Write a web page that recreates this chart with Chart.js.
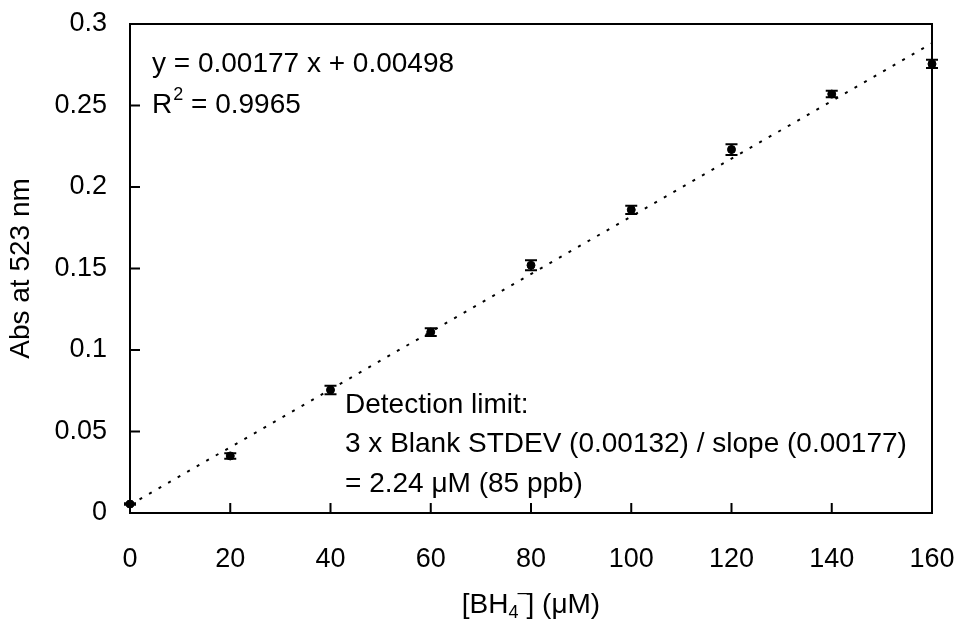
<!DOCTYPE html>
<html>
<head>
<meta charset="utf-8">
<script src="https://cdn.jsdelivr.net/npm/chart.js@4.4.0/dist/chart.umd.min.js"></script>
<style>
  html, body { margin: 0; padding: 0; background: #fff; }
  #wrap { width: 958px; height: 625px; }
</style>
</head>
<body>
<div id="wrap"><canvas id="chart" width="958" height="625"></canvas></div>
<script>
// 検量線のデータ
const concentrations = [0, 20, 40, 60, 80, 100, 120, 140, 160];
const absorbance = [0.0055, 0.035, 0.0755, 0.111, 0.152, 0.186, 0.223, 0.257, 0.2755];
const absError = [0.0005, 0.0017, 0.0026, 0.0024, 0.003, 0.0025, 0.0033, 0.002, 0.0025];
const fitSlope = 0.00177;
const fitIntercept = 0.00498;
const xTicks = [0, 20, 40, 60, 80, 100, 120, 140, 160];
const yTicks = [0, 0.05, 0.1, 0.15, 0.2, 0.25, 0.3];
const yTickLabels = ["0", "0.05", "0.1", "0.15", "0.2", "0.25", "0.3"];
const fitLine1 = "y = 0.00177 x + 0.00498";
const fitLine2 = ["R", "2", " = 0.9965"];
const noteLines = ["Detection limit:", "3 x Blank STDEV (0.00132) / slope (0.00177)", "= 2.24 \u03bcM (85 ppb)"];
const yTitle = "Abs at 523 nm";

const FONT = '"Liberation Sans", Arial, sans-serif';
const FS = 27;   // 目盛りの文字
const FT = 28;   // 注釈・軸タイトル

// 枠線・目盛り・誤差棒・注釈を描くプラグイン
const decorPlugin = {
  id: "decor",
  afterDatasetsDraw(chart) {
    const ctx = chart.ctx;
    const a = chart.chartArea;
    const xs = chart.scales.x;
    const ys = chart.scales.y;
    ctx.save();
    ctx.strokeStyle = "#000";
    ctx.fillStyle = "#000";
    ctx.lineWidth = 2;

    // error bars
    concentrations.forEach((c, i) => {
      const px = xs.getPixelForValue(c);
      const top = ys.getPixelForValue(absorbance[i] + absError[i]);
      const bot = ys.getPixelForValue(absorbance[i] - absError[i]);
      ctx.beginPath();
      ctx.moveTo(px, top); ctx.lineTo(px, bot);
      ctx.moveTo(px - 6, top); ctx.lineTo(px + 6, top);
      ctx.moveTo(px - 6, bot); ctx.lineTo(px + 6, bot);
      ctx.stroke();
    });

    // frame
    ctx.strokeRect(a.left, a.top, a.right - a.left, a.bottom - a.top);

    // inside ticks
    ctx.beginPath();
    xTicks.forEach(v => {
      const px = xs.getPixelForValue(v);
      ctx.moveTo(px, a.bottom); ctx.lineTo(px, a.bottom - 10);
    });
    yTicks.forEach(v => {
      const py = ys.getPixelForValue(v);
      ctx.moveTo(a.left, py); ctx.lineTo(a.left + 10, py);
    });
    ctx.stroke();

    // regression text
    ctx.font = FT + "px " + FONT;
    ctx.textBaseline = "middle";
    ctx.textAlign = "left";
    const tx = a.left + 22;
    ctx.fillText(fitLine1, tx, a.top + 40);
    let x = tx;
    const ry = a.top + 81;
    ctx.fillText(fitLine2[0], x, ry);
    x += ctx.measureText(fitLine2[0]).width;
    ctx.font = "18px " + FONT;
    ctx.fillText(fitLine2[1], x + 1, ry - 10);
    x += ctx.measureText(fitLine2[1]).width + 1;
    ctx.font = FT + "px " + FONT;
    ctx.fillText(fitLine2[2], x, ry);

    // detection limit text
    const nx = a.left + 215;
    noteLines.forEach((t, i) => {
      ctx.fillText(t, nx, a.top + 381 + i * 39.5);
    });

    // x axis title with sub/superscript
    const parts = [["[BH", 0, FT], ["4", 8, 18], ["\u2013", -12, 18], ["] (\u03bcM)", 0, FT]];
    let w = 0;
    parts.forEach(p => {
      ctx.font = p[2] + "px " + FONT;
      if (p[0] !== "\u2013") w += ctx.measureText(p[0]).width;
    });
    ctx.font = "18px " + FONT;
    const minusW = ctx.measureText("\u2013").width;
    w += minusW - 2;
    let cx = (a.left + a.right) / 2 - w / 2;
    const cy = 605;
    parts.forEach(p => {
      ctx.font = p[2] + "px " + FONT;
      if (p[0] === "\u2013") {
        ctx.fillText(p[0], cx - 1, cy + p[1]);
        cx += minusW - 2;
      } else {
        ctx.fillText(p[0], cx, cy + p[1]);
        cx += ctx.measureText(p[0]).width;
      }
    });
    ctx.restore();
  }
};

const ctx = document.getElementById("chart").getContext("2d");
new Chart(ctx, {
  type: "scatter",
  data: {
    datasets: [
      {
        label: "fit",
        type: "line",
        data: [
          { x: concentrations[0], y: fitSlope * concentrations[0] + fitIntercept },
          { x: concentrations[concentrations.length - 1], y: fitSlope * concentrations[concentrations.length - 1] + fitIntercept }
        ],
        borderColor: "#000",
        borderWidth: 2,
        borderDash: [3, 8],
        pointRadius: 0,
        fill: false
      },
      {
        label: "data",
        data: concentrations.map((c, i) => ({ x: c, y: absorbance[i] })),
        backgroundColor: "#000",
        borderColor: "#000",
        pointRadius: 4,
        pointHoverRadius: 4,
        clip: false
      }
    ]
  },
  options: {
    responsive: false,
    animation: false,
    devicePixelRatio: 1,
    layout: { padding: { top: 24, right: 26, left: 0, bottom: 0 } },
    plugins: { legend: { display: false }, tooltip: { enabled: false } },
    scales: {
      x: {
        type: "linear",
        min: 0,
        max: 160,
        afterBuildTicks: s => { s.ticks = xTicks.map(v => ({ value: v })); },
        afterFit: s => { s.height = 112; s.paddingLeft = 0; s.paddingRight = 0; },
        grid: { display: false, drawTicks: false },
        border: { display: false },
        ticks: { color: "#000", padding: 30, font: { family: FONT, size: FS } }
      },
      y: {
        type: "linear",
        min: 0,
        max: 0.3,
        afterBuildTicks: s => { s.ticks = yTicks.map(v => ({ value: v })); },
        afterFit: s => { s.width = 130; s.paddingTop = 0; s.paddingBottom = 0; },
        grid: { display: false, drawTicks: false },
        border: { display: false },
        ticks: {
          color: "#000",
          padding: 23,
          font: { family: FONT, size: FS },
          callback: (v) => yTickLabels[yTicks.indexOf(v)] ?? ""
        },
        title: { display: true, text: yTitle, color: "#000", padding: { top: 4, bottom: 0 }, font: { family: FONT, size: FT } }
      }
    }
  },
  plugins: [decorPlugin]
});
</script>
</body>
</html>
